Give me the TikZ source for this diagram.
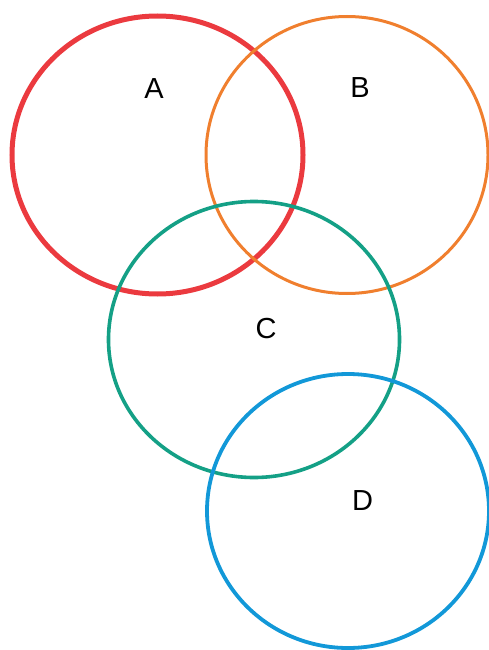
\documentclass[tikz,border=0pt]{standalone}
\usepackage{fontspec}
\setmainfont{Liberation Sans}
\definecolor{cA}{HTML}{EB3A3F}
\definecolor{cB}{HTML}{F07F2E}
\definecolor{cC}{HTML}{14A086}
\definecolor{cD}{HTML}{1298D8}
\begin{document}
\begin{tikzpicture}[x=1pt,y=-1pt,
  lbl/.style={font=\fontsize{29}{33}\selectfont, text=black, inner sep=0pt}]
\useasboundingbox (0,0) rectangle (489,650);
\draw[cA, line width=5pt] (157.5,155) ellipse [x radius=145.5, y radius=139];
\draw[cB, line width=3pt] (347,155) ellipse [x radius=141, y radius=138.5];
\draw[cC, line width=3.6pt] (254,339.5) ellipse [x radius=145.5, y radius=138];
\draw[cD, line width=3.8pt] (348,511) ellipse [x radius=141, y radius=137];
\node[lbl] (a) at (154,89) {A};
\node[lbl] (b) at (360,88) {B};
\node[lbl] (c) at (266,329) {C};
\node[lbl] (d) at (362.5,501) {D};
\end{tikzpicture}
\end{document}
